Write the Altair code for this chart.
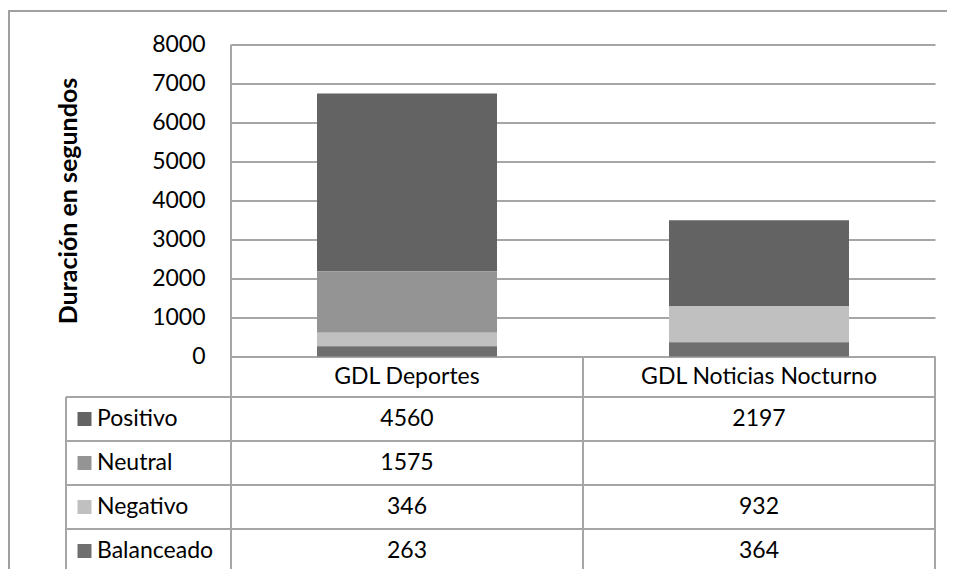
import altair as alt
import pandas as pd

categories = ["GDL Deportes", "GDL Noticias Nocturno"]
series = ["Positivo", "Neutral", "Negativo", "Balanceado"]
deportes = [4560, 1575, 346, 263]
noticias = [2197, None, 932, 364]
colors = ["#636363", "#949494", "#c0c0c0", "#6f6f6f"]
y_ticks = [0, 1000, 2000, 3000, 4000, 5000, 6000, 7000, 8000]

FONT = "Lato"
FS = 23
LINE = "#a6a6a6"
LW = 2

rows = []
for cat, vals in zip(categories, [deportes, noticias]):
    for i, (s, v) in enumerate(zip(series, vals)):
        rows.append({
            "category": cat,
            "series": s,
            "value": v,
            "label": "" if v is None else str(v),
            "stack_ord": len(series) - 1 - i,
        })
df = pd.DataFrame(rows)
bars_df = df[df["value"].notna()].copy()

# layout (pixels relative to plot area)
W, H = 704, 312
table_left = -165
row_top = 352.5
row_h = 44
n_rows = len(series)
row_lines = [row_top + i * row_h for i in range(n_rows + 1)]
table_bottom = row_lines[-1]
header_center = (H + row_top) / 2
row_centers = [row_top + row_h * (i + 0.5) for i in range(n_rows)]

xscale = alt.Scale(domain=categories, paddingInner=0, paddingOuter=0)
cscale = alt.Scale(domain=series, range=colors)
rowscale = alt.Scale(type="point", domain=series, range=[row_centers[0], row_centers[-1]], padding=0)

bars = alt.Chart(bars_df).mark_bar(size=180).encode(
    x=alt.X("category:N", scale=xscale, axis=None, sort=categories),
    y=alt.Y(
        "value:Q",
        stack="zero",
        scale=alt.Scale(domain=[0, 8000], nice=False),
        axis=alt.Axis(
            values=y_ticks,
            format="d",
            grid=True,
            gridColor=LINE,
            gridWidth=LW,
            domain=False,
            ticks=False,
            labelFont=FONT,
            labelFontSize=FS,
            labelColor="black",
            labelPadding=26,
            title="Duración en segundos",
            titleFont=FONT,
            titleFontSize=25,
            titleFontWeight="bold",
            titleColor="black",
            titleAngle=270,
            titleX=-163,
            titleY=156,
            titleAlign="center",
            titleBaseline="middle",
        ),
    ),
    color=alt.Color("series:N", scale=cscale, legend=None),
    order=alt.Order("stack_ord:Q"),
)

cat_df = pd.DataFrame({"category": categories})
header = alt.Chart(cat_df).mark_text(font=FONT, fontSize=FS, baseline="middle", color="black").encode(
    x=alt.X("category:N", scale=xscale, axis=None, sort=categories),
    y=alt.value(header_center),
    text="category:N",
)

cells = alt.Chart(df).mark_text(font=FONT, fontSize=FS, baseline="middle", color="black").encode(
    x=alt.X("category:N", scale=xscale, axis=None, sort=categories),
    y=alt.Y("series:N", scale=rowscale, axis=None),
    text="label:N",
)

ser_df = pd.DataFrame({"series": series})
squares = alt.Chart(ser_df).mark_square(size=196, opacity=1, filled=True).encode(
    x=alt.value(table_left + 18.5),
    y=alt.Y("series:N", scale=rowscale, axis=None),
    color=alt.Color("series:N", scale=cscale, legend=None),
)
row_labels = alt.Chart(ser_df).mark_text(font=FONT, fontSize=FS, baseline="middle", align="left", color="black").encode(
    x=alt.value(table_left + 31),
    y=alt.Y("series:N", scale=rowscale, axis=None),
    text="series:N",
)

# table borders
hlines_df = pd.DataFrame({"y": row_lines})
hlines = alt.Chart(hlines_df).mark_rule(color=LINE, strokeWidth=LW).encode(
    x=alt.value(table_left), x2=alt.value(W), y=alt.Y("y:Q", scale=None),
)
vlines_df = pd.DataFrame({
    "x": [table_left, 0, W / 2, W],
    "y": [row_top, 0, H, H],
    "y2": [table_bottom] * 4,
})
vlines = alt.Chart(vlines_df).mark_rule(color=LINE, strokeWidth=LW).encode(
    x=alt.X("x:Q", scale=None), y=alt.Y("y:Q", scale=None), y2="y2:Q",
)

# outer frame: only its left and top edges fall inside the picture
frame = alt.Chart(cat_df.head(1)).mark_rect(filled=False, stroke="#a0a0a0", strokeWidth=2, fill=None).encode(
    x=alt.value(-222), x2=alt.value(W + 60), y=alt.value(-33.5), y2=alt.value(620),
)

chart = alt.layer(
    frame, bars, hlines, vlines, header, cells, squares, row_labels
).resolve_scale(y="independent").properties(
    width=W,
    height=H,
    autosize=alt.AutoSizeParams(type="none"),
    padding={"left": 223, "top": 36.5, "right": 12, "bottom": 212.5},
).configure_view(stroke=None)

chart.save("out.html", embed_options={"renderer": "svg", "actions": False})
